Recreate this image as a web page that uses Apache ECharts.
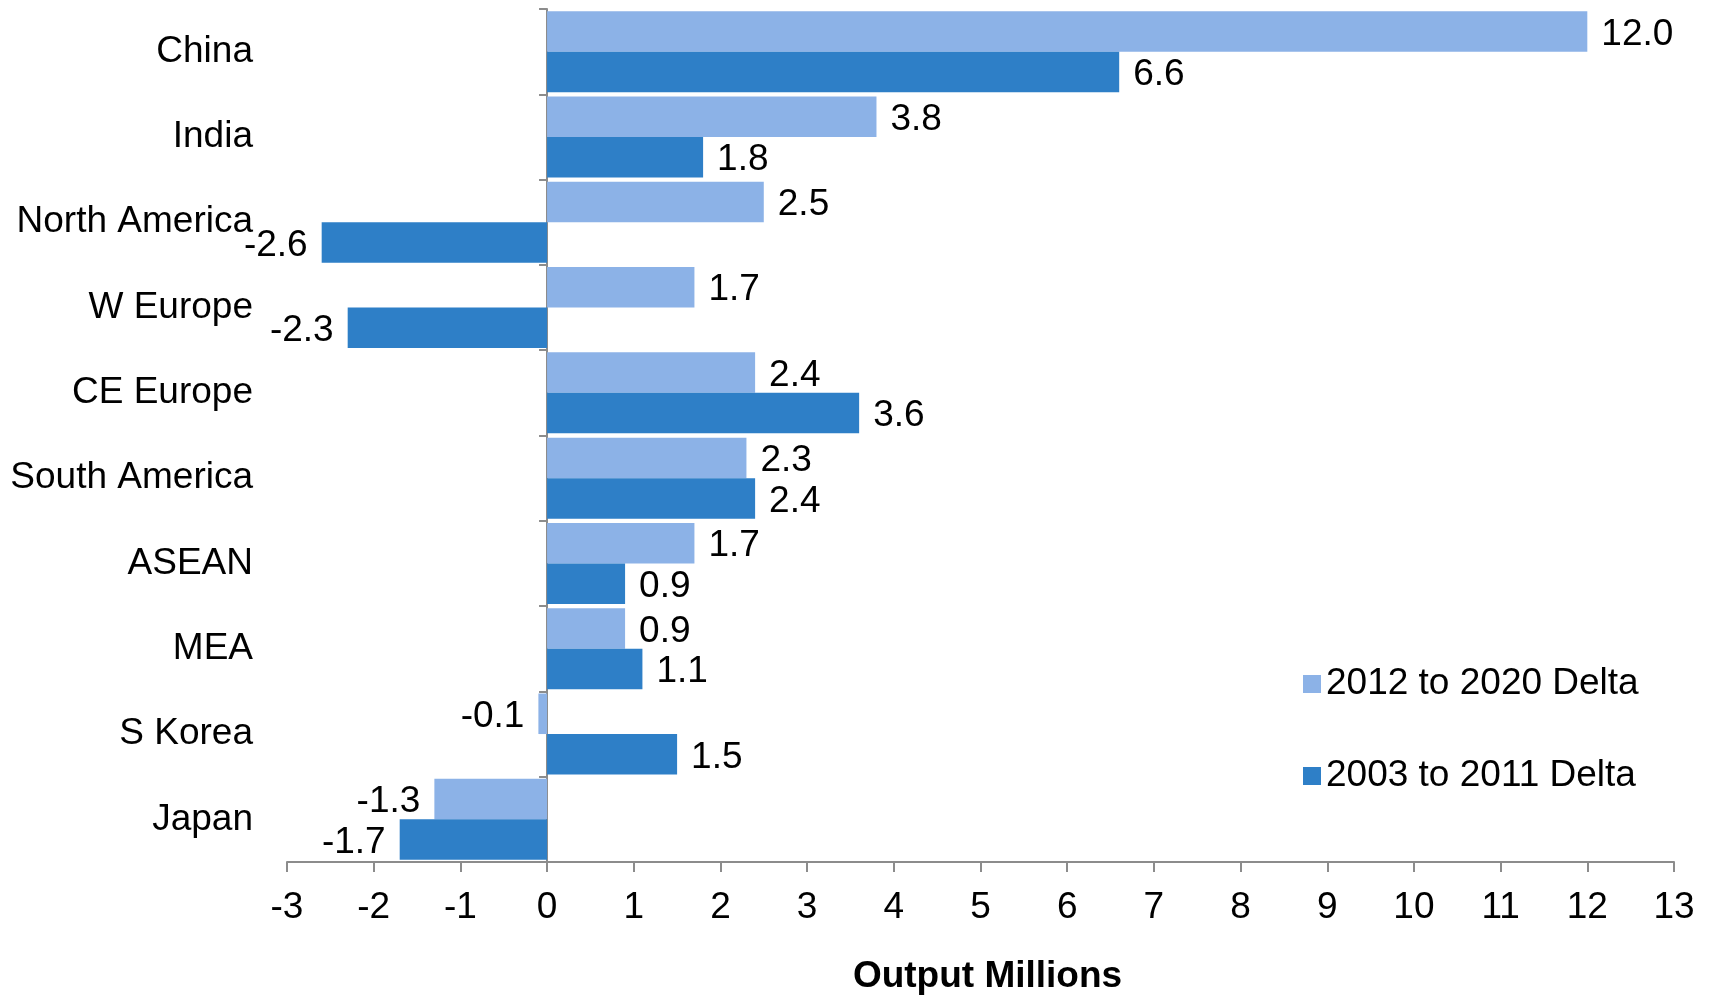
<!DOCTYPE html>
<html>
<head>
<meta charset="utf-8">
<script src="https://cdn.jsdelivr.net/npm/echarts@6/dist/echarts.min.js"></script>
<style>
  html, body { margin: 0; padding: 0; background: #fff; }
  #chart { width: 1710px; height: 995px; }
</style>
</head>
<body>
<div id="chart"></div>
<script>
// Regions, top to bottom
const regions = ['China', 'India', 'North America', 'W Europe', 'CE Europe',
  'South America', 'ASEAN', 'MEA', 'S Korea', 'Japan'];

// Change in output, millions of units
const delta2012to2020 = [12.0, 3.8, 2.5, 1.7, 2.4, 2.3, 1.7, 0.9, -0.1, -1.3];
const delta2003to2011 = [6.6, 1.8, -2.6, -2.3, 3.6, 2.4, 0.9, 1.1, 1.5, -1.7];

const seriesNames = ['2012 to 2020 Delta', '2003 to 2011 Delta'];

const FONT = '"Liberation Sans", Arial, sans-serif';
const FS = 37;
const AXIS_GREY = '#8c8c8c';

// Labels sit outside the bar end: right for gains, left for losses
function withLabels(values) {
  return values.map(v => ({
    value: v,
    label: { position: v < 0 ? 'left' : 'right' }
  }));
}

const valueLabel = {
  show: true,
  distance: 14,
  offset: [0, 3],
  fontFamily: FONT,
  fontSize: FS,
  color: '#000',
  formatter: p => p.value.toFixed(1)
};

const chart = echarts.init(document.getElementById('chart'));

chart.setOption({
  animation: false,
  backgroundColor: '#ffffff',
  textStyle: { fontFamily: FONT },
  grid: { left: 287, right: 36, top: 9, bottom: 133, containLabel: false, outerBoundsMode: 'none' },
  legend: {
    orient: 'vertical',
    left: 1298,
    top: 659,
    itemWidth: 18,
    itemHeight: 18,
    itemGap: 52,
    icon: 'rect',
    textStyle: { fontFamily: FONT, fontSize: FS, color: '#000', lineHeight: 40, padding: [0, 0, 0, 0] },
    data: seriesNames
  },
  xAxis: {
    type: 'value',
    min: -3,
    max: 13,
    interval: 1,
    splitLine: { show: false },
    axisLine: { show: true, lineStyle: { color: AXIS_GREY, width: 2 } },
    axisTick: { show: true, length: 10, lineStyle: { color: AXIS_GREY, width: 2 } },
    axisLabel: { fontFamily: FONT, fontSize: FS, color: '#000', margin: 27 },
    name: 'Output Millions',
    nameLocation: 'middle',
    nameGap: 96,
    nameTextStyle: { fontFamily: FONT, fontSize: FS, fontWeight: 'bold', color: '#000', padding: [0, 0, 0, 14] }
  },
  yAxis: [
    {
      // region names along the left edge
      type: 'category',
      inverse: true,
      data: regions,
      position: 'left',
      axisLine: { show: false, onZero: false },
      axisTick: { show: false },
      axisLabel: { fontFamily: FONT, fontSize: FS, color: '#000', margin: 34 }
    },
    {
      // category axis line with its ticks drawn at x = 0
      type: 'category',
      inverse: true,
      data: regions,
      position: 'left',
      axisLine: { show: true, onZero: true, lineStyle: { color: AXIS_GREY, width: 2 } },
      axisTick: { show: true, length: 8, lineStyle: { color: AXIS_GREY, width: 2 } },
      axisLabel: { show: false }
    }
  ],
  series: [
    {
      name: seriesNames[0],
      type: 'bar',
      yAxisIndex: 0,
      data: withLabels(delta2012to2020),
      itemStyle: { color: '#8cb2e7' },
      barGap: '0%',
      barCategoryGap: '5%',
      label: valueLabel
    },
    {
      name: seriesNames[1],
      type: 'bar',
      yAxisIndex: 0,
      data: withLabels(delta2003to2011),
      itemStyle: { color: '#2e7fc7' },
      barGap: '0%',
      barCategoryGap: '5%',
      label: valueLabel
    }
  ]
});
</script>
</body>
</html>
